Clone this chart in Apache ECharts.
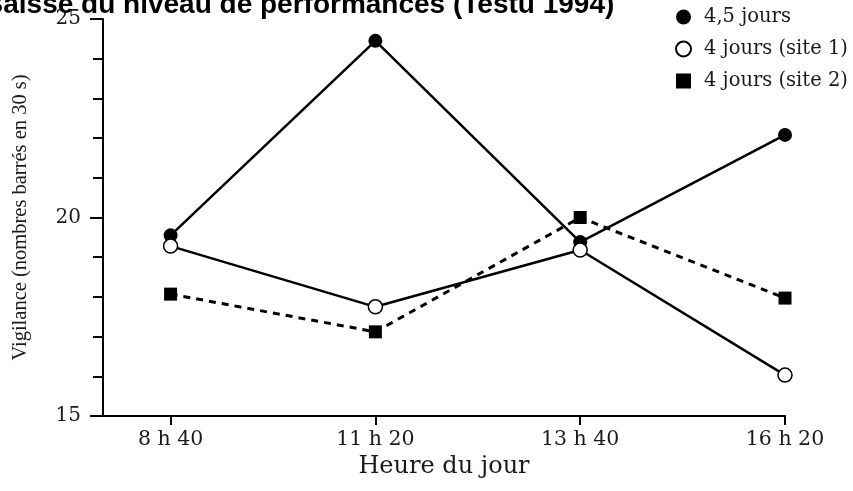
<!DOCTYPE html>
<html>
<head>
<meta charset="utf-8">
<script src="https://cdn.jsdelivr.net/npm/echarts@6/dist/echarts.min.js"></script>
<style>
  html, body { margin: 0; padding: 0; background: #fff; }
  #chart { width: 853px; height: 491px; }
</style>
</head>
<body>
<div id="chart"></div>
<script>
// heures du jour (positions régulières sur l'axe)
const hours = ['8 h 40', '11 h 20', '13 h 40', '16 h 20'];
const hourIdx = [0, 1, 2, 3];

// vigilance (nombres barrés en 30 s)
const jours45 = [19.55, 24.45, 19.38, 22.08];
const jours4Site1 = [19.28, 17.75, 19.18, 16.03];
const jours4Site2 = [18.07, 17.12, 20.0, 17.97];

const serif = 'DejaVu Serif';
const chart = echarts.init(document.getElementById('chart'));

const pts = vals => hourIdx.map((x, i) => [x, vals[i]]);

const option = {
  backgroundColor: '#ffffff',
  animation: false,
  title: {
    text: 'Baisse du niveau de performances (Testu 1994)',
    left: -22, top: -14,
    textStyle: { fontFamily: 'Liberation Sans', fontWeight: 'bold', fontSize: 28, color: '#000' }
  },
  legend: {
    left: 670, top: 2, orient: 'vertical', itemGap: 12,
    itemWidth: 15, itemHeight: 15,
    textStyle: { fontFamily: serif, fontSize: 19.5, color: '#1a1a1a', padding: [0, 0, 0, 8] },
    data: [
      { name: '4,5 jours', icon: 'circle' },
      { name: '4 jours (site 1)', icon: 'circle' },
      { name: '4 jours (site 2)', icon: 'rect' }
    ]
  },
  grid: { left: 103, right: 68, top: 19, bottom: 75 },
  xAxis: {
    type: 'value', min: -0.33, max: 3,
    name: 'Heure du jour', nameLocation: 'middle', nameGap: 39,
    nameTextStyle: { fontFamily: serif, fontSize: 24, color: '#1a1a1a' },
    axisLine: { show: true, onZero: false, lineStyle: { color: '#000', width: 2 } },
    axisTick: { show: true, length: 9, lineStyle: { color: '#000', width: 2 }, customValues: hourIdx },
    axisLabel: {
      customValues: hourIdx, margin: 13,
      fontFamily: serif, fontSize: 20.5, color: '#1a1a1a',
      formatter: v => hours[Math.round(v)]
    },
    splitLine: { show: false }
  },
  yAxis: {
    type: 'value', min: 15, max: 25, interval: 5,
    name: 'Vigilance (nombres barrés en 30 s)', nameLocation: 'middle', nameRotate: 90, nameGap: 72,
    nameTextStyle: { fontFamily: 'Liberation Serif', fontSize: 20.5, color: '#1a1a1a' },
    axisLine: { show: true, onZero: false, lineStyle: { color: '#000', width: 2 } },
    axisTick: { show: true, length: 13, lineStyle: { color: '#000', width: 2 } },
    minorTick: { show: true, splitNumber: 5, length: 10, lineStyle: { color: '#000', width: 2 } },
    axisLabel: { margin: 22, fontFamily: serif, fontSize: 20, color: '#1a1a1a' },
    splitLine: { show: false }
  },
  series: [
    {
      name: '4 jours (site 2)', type: 'line', data: pts(jours4Site2),
      symbol: 'rect', symbolSize: 13,
      lineStyle: { color: '#000', width: 3, type: [7, 6] },
      itemStyle: { color: '#000' }
    },
    {
      name: '4,5 jours', type: 'line', data: pts(jours45),
      symbol: 'circle', symbolSize: 14,
      lineStyle: { color: '#000', width: 2.5 },
      itemStyle: { color: '#000' }
    },
    {
      name: '4 jours (site 1)', type: 'line', data: pts(jours4Site1),
      symbol: 'circle', symbolSize: 14,
      lineStyle: { color: '#000', width: 2.5 },
      itemStyle: { color: '#fff', borderColor: '#000', borderWidth: 1.5 }
    }
  ]
};
chart.setOption(option);
</script>
</body>
</html>
